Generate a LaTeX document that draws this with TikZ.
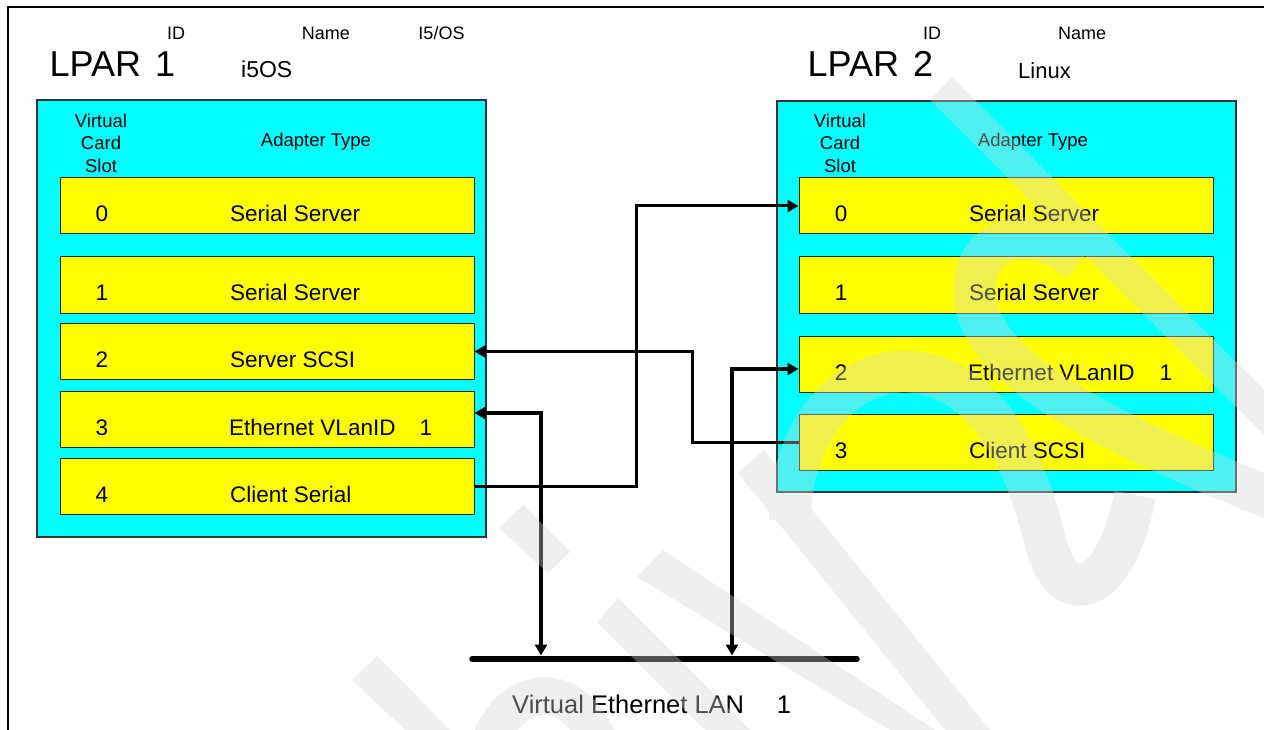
\documentclass[tikz,border=0pt]{standalone}
\usepackage{fontspec}
\setmainfont{Liberation Sans}
\usetikzlibrary{arrows.meta}
\definecolor{boxcyan}{RGB}{0,255,255}
\definecolor{rowyellow}{RGB}{255,255,0}
\definecolor{wmgray}{RGB}{214,214,214}
\tikzset{
  lparbox/.style={draw=black!80, line width=1.2pt, fill=boxcyan, inner sep=0pt},
  slotrow/.style={draw=black!85, line width=1pt, fill=rowyellow, inner sep=0pt,
    minimum width=414pt, minimum height=56pt},
  rowtxt/.style={font=\fontsize{22.5}{27}\selectfont, inner sep=0pt, anchor=base west},
  rownum/.style={font=\fontsize{22.5}{27}\selectfont, inner sep=0pt, anchor=base},
  hdr/.style={font=\fontsize{18.5}{22.5}\selectfont, inner sep=0pt, align=center},
  hdrone/.style={font=\fontsize{18.5}{22.5}\selectfont, inner sep=0pt, anchor=base},
  toplbl/.style={font=\fontsize{18}{22}\selectfont, inner sep=0pt, anchor=base},
  lparlbl/.style={font=\fontsize{36}{40}\selectfont, inner sep=0pt, anchor=base west},
  osname/.style={font=\fontsize{23}{27}\selectfont, inner sep=0pt, anchor=base west},
  conn/.style={line width=3pt, -{Triangle[length=11pt,width=12pt]}},
  ethconn/.style={line width=4pt, {Triangle[length=11pt,width=12pt]}-{Triangle[length=11pt,width=12pt]}},
  lanbar/.style={line width=5.5pt, line cap=round},
  frameline/.style={line width=1.5pt, black},
  wmstroke/.style={draw=wmgray, line width=#1},
}
\begin{document}
\begin{tikzpicture}[x=1pt,y=-1pt]
\useasboundingbox (0,0) rectangle (1264,730);
\fill[white] (0,0) rectangle (1264,730);
% frame
\draw[frameline] (8,730) -- (8,7) -- (1264,7);

% ---------- LPAR 1 ----------
\node[toplbl] (id1) at (176,39.5) {ID};
\node[toplbl] (nm1) at (326,39.5) {Name};
\node[toplbl] (os1) at (441.5,39.5) {I5/OS};
\node[lparlbl] (lp1) at (49.5,77) {LPAR\hspace{14pt}1};
\node[osname] (on1) at (241,78) {i5OS};

\node[lparbox, minimum width=449pt, minimum height=437pt] (box1) at (261.5,318.5) {};
\node[hdr] (vcs1) at (101,143) {Virtual\\Card\\Slot};
\node[hdrone] (at1) at (316,147) {Adapter Type};

\node[slotrow] (a0) at (267,206) {};
\node[slotrow] (a1) at (267,285) {};
\node[slotrow] (a2) at (267,351.5) {};
\node[slotrow] (a3) at (267,419) {};
\node[slotrow] (a4) at (267,486) {};

\node[rownum] (a0n) at (102,222) {0};
\node[rowtxt] (a0t) at (230,222) {Serial Server};
\node[rownum] (a1n) at (102,301) {1};
\node[rowtxt] (a1t) at (230,301) {Serial Server};
\node[rownum] (a2n) at (102,367.5) {2};
\node[rowtxt] (a2t) at (230,367.5) {Server SCSI};
\node[rownum] (a3n) at (102,435) {3};
\node[rowtxt] (a3t) at (229,435) {Ethernet VLanID\hspace{24.2pt}1};
\node[rownum] (a4n) at (102,502) {4};
\node[rowtxt] (a4t) at (230,502) {Client Serial};

% ---------- LPAR 2 ----------
\node[toplbl] (id2) at (932,39.5) {ID};
\node[toplbl] (nm2) at (1082,39.5) {Name};
\node[lparlbl] (lp2) at (807.5,77) {LPAR\hspace{14pt}2};
\node[osname, font=\fontsize{22}{26}\selectfont] (on2) at (1018,79) {Linux};

\node[lparbox, minimum width=459pt, minimum height=391pt] (box2) at (1006.5,296.5) {};
\node[hdr] (vcs2) at (840,143) {Virtual\\Card\\Slot};
\node[hdrone] (at2) at (1033,147) {Adapter Type};

\node[slotrow] (b0) at (1006,206) {};
\node[slotrow] (b1) at (1006,285) {};
\node[slotrow] (b2) at (1006,364) {};
\node[slotrow] (b3) at (1006,442) {};

\node[rownum] (b0n) at (841,222) {0};
\node[rowtxt] (b0t) at (969,222) {Serial Server};
\node[rownum] (b1n) at (841,301) {1};
\node[rowtxt] (b1t) at (969,301) {Serial Server};
\node[rownum] (b2n) at (841,380) {2};
\node[rowtxt] (b2t) at (968,380) {Ethernet VLanID\hspace{25.2pt}1};
\node[rownum] (b3n) at (841,458) {3};
\node[rowtxt] (b3t) at (969,458) {Client SCSI};

% ---------- LAN ----------
\coordinate (lanL) at (472,659);
\coordinate (lanR) at (857,659);
\coordinate (lanA) at (541,655.5);
\coordinate (lanB) at (732,655.5);
\draw[lanbar] (lanL) -- (lanR);
\node[font=\fontsize{25.5}{30}\selectfont, inner sep=0pt, anchor=base west] (lanlbl) at (512,713.3)
  {Virtual Ethernet LAN\hspace{32.6pt}1};

% ---------- connectors ----------
\draw[conn] (a4.east) -- ++(162,0) |- (b0.west);
\draw[conn] (b3.west) -- ++(-106,0) |- (a2.east);
\draw[ethconn] ([yshift=6pt]a3.east) -| (lanA);
\draw[ethconn] ([yshift=-5pt]b2.west) -| (lanB);

% ---------- watermark ----------
\begin{scope}[transparency group, opacity=0.37]
  \fill[wmgray] (930,100) -- (952,77) -- (1264,390) -- (1264,435) -- cycle;
  \draw[wmstroke=42pt] (1080,262) .. controls (1035,222) and (968,232) .. (975,300)
        .. controls (985,370) and (1100,430) .. (1275,500);
  \draw[wmstroke=42pt] (790,520) .. controls (790,420) and (860,355) .. (930,375)
        .. controls (1000,395) and (1030,480) .. (1045,540)
        .. controls (1060,610) and (1115,600) .. (1135,495);
  \draw[wmstroke=38pt] (490,745) .. controls (505,690) and (570,670) .. (600,745);
  \fill[wmgray] (499,528) -- (523,505) -- (570,552) -- (548,573) -- cycle;
  \fill[wmgray] (637,577) -- (663,550) -- (935,730) -- (890,730) -- cycle;
  \fill[wmgray] (597,622) -- (618,598) -- (750,730) -- (705,730) -- cycle;
  \fill[wmgray] (738,473) -- (764,450) -- (990,730) -- (945,730) -- cycle;
  \fill[wmgray] (352,680) -- (377,656) -- (450,730) -- (405,730) -- cycle;
\end{scope}
\end{tikzpicture}
\end{document}
